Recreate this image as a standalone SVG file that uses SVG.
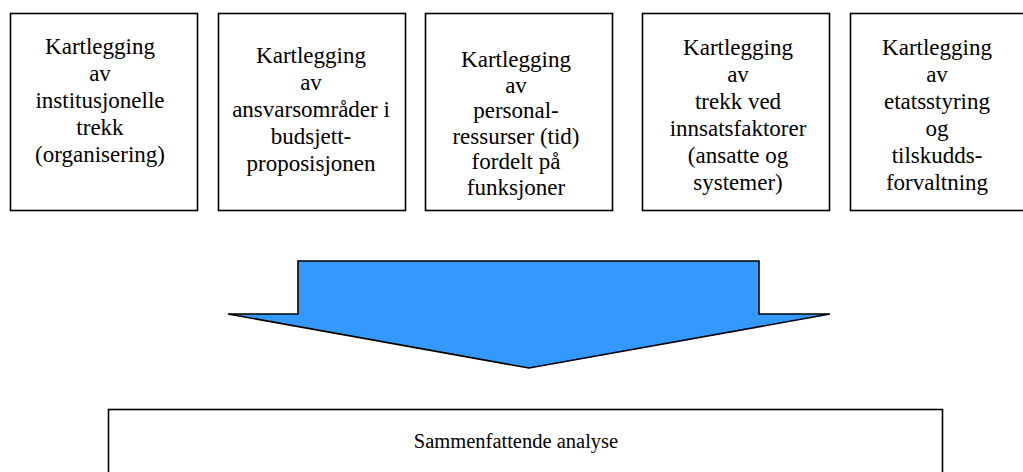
<svg xmlns="http://www.w3.org/2000/svg" width="1023" height="472" viewBox="0 0 1023 472">
<style>
.box{fill:#fff;stroke:#000;stroke-width:1.6}
text{font-family:'Liberation Serif','Times New Roman',serif;font-size:23px;fill:#000;text-anchor:middle}
.small{font-size:20.5px}
.arrow{fill:#3399FF;stroke:#000;stroke-width:1.6;stroke-linejoin:miter}
</style>
<rect width="1023" height="472" fill="#fff"/>
<g id="node1">
<rect class="box" x="10.5" y="13.5" width="187" height="197"/>
<text x="100" y="54">Kartlegging</text>
<text x="100" y="81">av</text>
<text x="100" y="108">institusjonelle</text>
<text x="100" y="135">trekk</text>
<text x="100" y="162">(organisering)</text>
</g>
<g id="node2">
<rect class="box" x="218.5" y="13.5" width="187" height="197"/>
<text x="311" y="63">Kartlegging</text>
<text x="311" y="90">av</text>
<text x="311" y="117">ansvarsområder i</text>
<text x="311" y="144">budsjett-</text>
<text x="311" y="171">proposisjonen</text>
</g>
<g id="node3">
<rect class="box" x="425.5" y="13.5" width="187" height="197"/>
<text x="516" y="67">Kartlegging</text>
<text x="516" y="92.5">av</text>
<text x="516" y="118">personal-</text>
<text x="516" y="143.5">ressurser (tid)</text>
<text x="516" y="169">fordelt på</text>
<text x="516" y="194.5">funksjoner</text>
</g>
<g id="node4">
<rect class="box" x="642.5" y="13.5" width="187" height="197"/>
<text x="738" y="55">Kartlegging</text>
<text x="738" y="82">av</text>
<text x="738" y="109">trekk ved</text>
<text x="738" y="136">innsatsfaktorer</text>
<text x="738" y="163">(ansatte og</text>
<text x="738" y="190">systemer)</text>
</g>
<g id="node5">
<rect class="box" x="850.5" y="13.5" width="175" height="197"/>
<text x="937" y="55">Kartlegging</text>
<text x="937" y="82">av</text>
<text x="937" y="109">etatsstyring</text>
<text x="937" y="136">og</text>
<text x="937" y="163">tilskudds-</text>
<text x="937" y="190">forvaltning</text>
</g>
<g id="connectors">
<polygon class="arrow" points="298,261 759,261 759,314 830,314 529,368 228,314 298,314"/>
</g>
<g id="node6">
<rect class="box" x="108.5" y="409.5" width="834" height="80"/>
<text class="small" x="516" y="448">Sammenfattende analyse</text>
</g>
</svg>
